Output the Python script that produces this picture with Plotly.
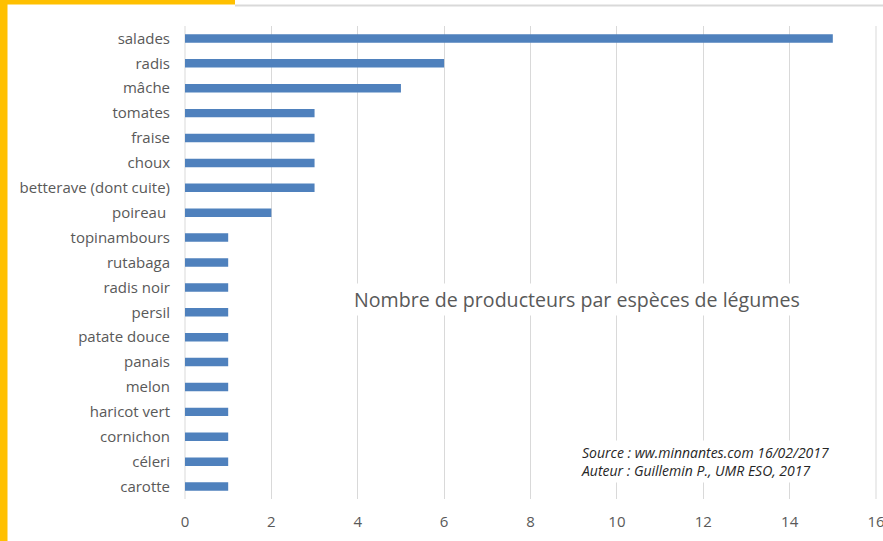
import plotly.graph_objects as go

categories = ["salades", "radis", "mâche", "tomates", "fraise", "choux",
              "betterave (dont cuite)", "poireau\u00a0", "topinambours", "rutabaga",
              "radis noir", "persil", "patate douce", "panais", "melon",
              "haricot vert", "cornichon", "céleri", "carotte"]
values = [15, 6, 5, 3, 3, 3, 3, 2, 1, 1, 1, 1, 1, 1, 1, 1, 1, 1, 1]
x_ticks = [0, 2, 4, 6, 8, 10, 12, 14, 16]

W, H = 883, 541
L, R, T, B = 185, 876, 26, 499

def px(x):
    return (x - L) / (R - L)

def py(y):
    return (B - y) / (B - T)

fig = go.Figure(go.Bar(
    x=values, y=categories, orientation="h",
    marker=dict(color="#4F81BD", line=dict(width=0)),
    width=0.34,
))

font = "Open Sans, Liberation Sans, sans-serif"
fig.update_layout(
    width=W, height=H,
    margin=dict(l=L, r=W - R, t=T, b=H - B, autoexpand=False),
    paper_bgcolor="white", plot_bgcolor="white",
    showlegend=False,
    font=dict(family=font, color="#595959", size=13),
    xaxis=dict(range=[0, 16], tickvals=x_ticks, showgrid=True,
               gridcolor="#d9d9d9", gridwidth=1, zeroline=False,
               showline=False, ticks="", tickfont=dict(size=15, color="#595959"),
               ticklabelstandoff=12, ticklabeloverflow="allow", automargin=False),
    yaxis=dict(categoryorder="array", categoryarray=categories[::-1],
               showgrid=False, zeroline=False, showline=False, ticks="",
               ticklabelstandoff=14, tickfont=dict(size=15, color="#595959"),
               automargin=False),
    shapes=[
        dict(type="rect", xref="paper", yref="paper", x0=px(-5), x1=px(7.5),
             y0=py(-5), y1=py(546), fillcolor="#FFC000", line=dict(width=0), layer="above"),
        dict(type="rect", xref="paper", yref="paper", x0=px(-5), x1=px(235),
             y0=py(-5), y1=py(4.5), fillcolor="#FFC000", line=dict(width=0), layer="above"),
        dict(type="line", xref="paper", yref="paper", x0=px(235), x1=px(890),
             y0=py(5.5), y1=py(5.5), line=dict(color="#d9d9d9", width=2), layer="above"),
        dict(type="line", xref="paper", yref="paper", x0=0, x1=0,
             y0=0, y1=1, line=dict(color="#d9d9d9", width=1), layer="below"),
        dict(type="line", xref="paper", yref="paper", x0=1, x1=1,
             y0=0, y1=1, line=dict(color="#d9d9d9", width=1), layer="below"),
    ],
    annotations=[
        dict(text="Nombre de producteurs par espèces de légumes", xref="paper", yref="paper",
             x=px(351), y=py(299), xanchor="left", yanchor="middle", showarrow=False,
             font=dict(size=19.6, color="#595959", family=font), bgcolor="white",
             borderpad=2),
        dict(text="<i>Source : ww.minnantes.com 16/02/2017<br>Auteur : Guillemin P., UMR ESO, 2017</i>",
             xref="paper", yref="paper", x=px(578), y=py(461), xanchor="left", yanchor="middle",
             align="left", showarrow=False,
             font=dict(size=14, color="#262626", family=font), bgcolor="white", borderpad=2),
    ],
)

fig.write_html("out.html", config={"displayModeBar": False},
               post_script="document.body.style.margin='0';document.body.style.overflow='hidden';")
